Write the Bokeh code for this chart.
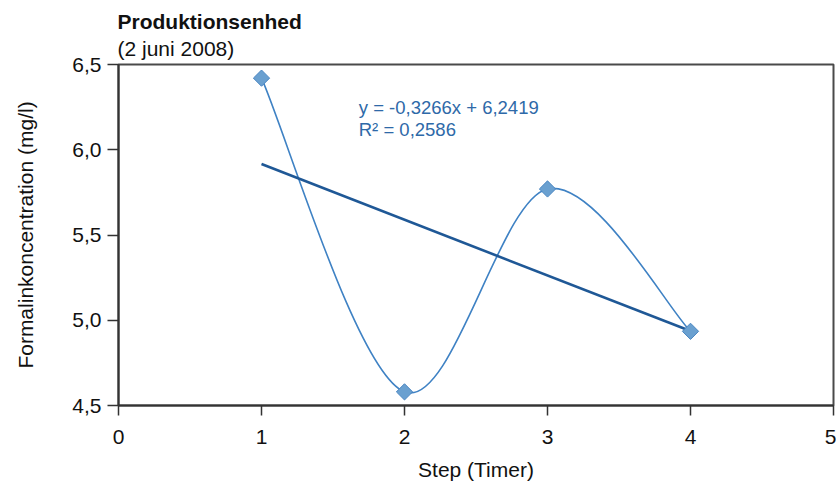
import numpy as np
from bokeh.plotting import figure
from bokeh.models import Label, FixedTicker, Title
from bokeh.embed import file_html
from bokeh.resources import INLINE

# ---- data ----
steps = [1, 2, 3, 4]
conc = [6.42, 4.58, 5.77, 4.935]
x_ticks = [0, 1, 2, 3, 4, 5]
x_tick_labels = ["0", "1", "2", "3", "4", "5"]
y_ticks = [4.5, 5.0, 5.5, 6.0, 6.5]
y_tick_labels = ["4,5", "5,0", "5,5", "6,0", "6,5"]
eq_text = "y = -0,3266x + 6,2419"
r2_text = "R\u00b2 = 0,2586"
title_text = "Produktionsenhed"
subtitle_text = "(2 juni 2008)"
x_label = "Step (Timer)"
y_label = "Formalinkoncentration (mg/l)"

FONT = "Liberation Sans"
CURVE = "#3f82c4"
TREND = "#1f5896"

p = figure(width=836, height=483, output_backend="svg", toolbar_location=None,
           x_range=(0, 5), y_range=(4.5, 6.5),
           title=title_text,
           min_border_left=118, min_border_right=3, min_border_top=64, min_border_bottom=78)
p.grid.visible = False
p.outline_line_color = "#4a4a4a"
p.outline_line_width = 2
p.background_fill_color = "white"
p.border_fill_color = "white"

p.title.text_font = FONT
p.title.text_font_size = "21px"
p.title.text_font_style = "bold"
p.title.text_color = "#111111"
p.title.align = "left"
p.title.standoff = -5
p.title.offset = -1
p.add_layout(Title(text=subtitle_text, text_font=FONT, text_font_size="21px",
                   text_font_style="normal", text_color="#111111", align="left",
                   standoff=9, offset=-1), "above")

# smoothed line (Catmull-Rom style bezier through the points)
xs = np.array(steps, dtype=float)
ys = np.array(conc, dtype=float)
n = len(xs)
xp = np.concatenate([[xs[0]], xs, [xs[-1]]])
yp = np.concatenate([[ys[0]], ys, [ys[-1]]])
x0 = xs[:-1]; y0 = ys[:-1]; x1 = xs[1:]; y1 = ys[1:]
cx0 = x0 + (xp[2:n + 1] - xp[0:n - 1]) / 6
cy0 = y0 + (yp[2:n + 1] - yp[0:n - 1]) / 6
cx1 = x1 - (xp[3:n + 2] - xp[1:n]) / 6
cy1 = y1 - (yp[3:n + 2] - yp[1:n]) / 6
p.bezier(x0=x0, y0=y0, x1=x1, y1=y1, cx0=cx0, cy0=cy0, cx1=cx1, cy1=cy1,
         line_color=CURVE, line_width=1.6)

# linear trend line
slope, intercept = np.polyfit(xs, ys, 1)
tx = np.array([xs[0], xs[-1]])
p.line(tx, slope * tx + intercept, line_color=TREND, line_width=2.6)

# markers
p.scatter(steps, conc, marker="square", angle=np.pi / 4, size=11.5,
          fill_color="#6aa0d0", line_color="#4a86c2", line_width=1)

# axes
for ax in (p.xaxis[0], p.yaxis[0]):
    ax.axis_line_color = "#333333"
    ax.axis_line_width = 2
    ax.major_tick_line_color = "#333333"
    ax.major_tick_line_width = 1.5
    ax.major_tick_in = 0
    ax.minor_tick_line_color = None
    ax.major_label_text_font = FONT
    ax.major_label_text_font_size = "21px"
    ax.major_label_text_color = "#111111"
    ax.axis_label_text_font = FONT
    ax.axis_label_text_font_size = "21px"
    ax.axis_label_text_font_style = "normal"
    ax.axis_label_text_color = "#111111"

p.xaxis.ticker = FixedTicker(ticks=x_ticks)
p.xaxis.major_label_overrides = dict(zip(x_ticks, x_tick_labels))
p.xaxis.major_tick_out = 10
p.xaxis.major_label_standoff = 14
p.xaxis.axis_label = x_label
p.xaxis.axis_label_standoff = 11

p.yaxis.ticker = FixedTicker(ticks=y_ticks)
p.yaxis.major_label_overrides = dict(zip(y_ticks, y_tick_labels))
p.yaxis.major_tick_out = 11
p.yaxis.major_label_standoff = 6
p.yaxis.axis_label = y_label
p.yaxis.axis_label_standoff = 32

# regression equation
p.add_layout(Label(x=1.68, y=6.248, text=eq_text, text_font=FONT, text_font_size="18.5px",
                   text_color="#2e69a8", text_baseline="alphabetic", text_align="left"))
p.add_layout(Label(x=1.68, y=6.119, text=r2_text, text_font=FONT, text_font_size="18.5px",
                   text_color="#2e69a8", text_baseline="alphabetic", text_align="left"))

open("out.html", "w").write(file_html(p, INLINE))
